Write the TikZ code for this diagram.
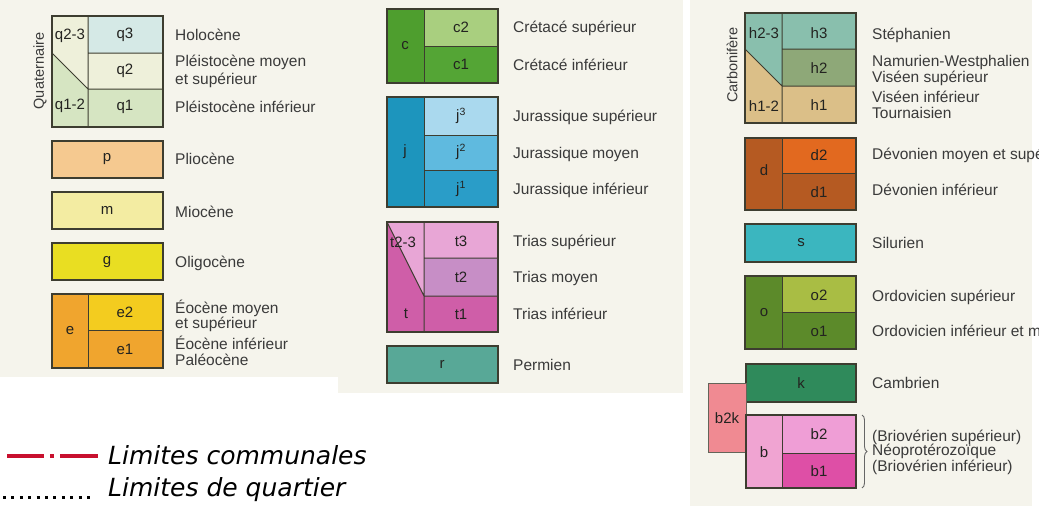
\documentclass[tikz,border=0pt]{standalone}
\usepackage{fontspec}
\setmainfont{Liberation Sans}
\newfontfamily\legendfont{DejaVu Sans}
\usetikzlibrary{decorations.pathreplacing}

\definecolor{panel}{HTML}{F5F4EC}
\definecolor{edge}{HTML}{3D3D30}
\definecolor{ink}{HTML}{232320}
\definecolor{label}{HTML}{3A3A3A}
\definecolor{limred}{HTML}{C8102E}
% stratigraphic colours
\definecolor{stq3}{HTML}{D5E9E6}
\definecolor{stq2}{HTML}{EEF0DA}
\definecolor{stq1}{HTML}{D6E5C2}
\definecolor{stp}{HTML}{F5C990}
\definecolor{stm}{HTML}{F3ECA2}
\definecolor{stg}{HTML}{E9DE22}
\definecolor{ste}{HTML}{F0A52E}
\definecolor{ste2}{HTML}{F3CC1F}
\definecolor{stc}{HTML}{4E9E2E}
\definecolor{stc2}{HTML}{A9CF7F}
\definecolor{stc1}{HTML}{54A535}
\definecolor{stj}{HTML}{1D95BD}
\definecolor{stj3}{HTML}{AAD9EE}
\definecolor{stj2}{HTML}{5FBADF}
\definecolor{stj1}{HTML}{2A9DC8}
\definecolor{stt}{HTML}{CF5EA8}
\definecolor{stt3}{HTML}{E8A6D6}
\definecolor{stt2}{HTML}{C78EC6}
\definecolor{str}{HTML}{58A897}
\definecolor{sth3}{HTML}{89BFAD}
\definecolor{sth2}{HTML}{8EA878}
\definecolor{sth1}{HTML}{DBBF88}
\definecolor{std}{HTML}{B55A22}
\definecolor{std2}{HTML}{E2691F}
\definecolor{sts}{HTML}{3BB6BF}
\definecolor{sto}{HTML}{5C8A2A}
\definecolor{sto2}{HTML}{A9BD44}
\definecolor{stk}{HTML}{2F8A5B}
\definecolor{stbk}{HTML}{F08A92}
\definecolor{stb}{HTML}{F0A4D2}
\definecolor{stb2}{HTML}{EF9ED6}
\definecolor{stb1}{HTML}{DE4FA6}

\begin{document}
\begin{tikzpicture}[x=1pt,y=-1pt,
  frame/.style={draw=edge, line width=1.3pt},
  sep/.style={draw=edge, line width=1pt},
  code/.style={font=\fontsize{15}{17}\selectfont, text=ink, inner sep=0},
  era/.style={font=\fontsize{15.5}{17}\selectfont, text=label, anchor=west, inner sep=0},
  period/.style={font=\fontsize{14.5}{16}\selectfont, text=label, rotate=90, inner sep=0},
  legtxt/.style={font=\legendfont\itshape\fontsize{25}{28}\selectfont, text=black, anchor=west, inner sep=0}]

\useasboundingbox (0,0) rectangle (1039,506);
\clip (0,0) rectangle (1039,506);
\fill[white] (0,0) rectangle (1039,506);

% background panels
\fill[fill=panel] (0,0) rectangle (338,377);
\fill[fill=panel] (338,0) rectangle (683,393);
\fill[fill=panel] (690,0) rectangle (1032,506);

% ---------- Quaternaire ----------
\fill[fill=stq3] (88,16) rectangle (163,53);
\fill[fill=stq2] (88,53) rectangle (163,89);
\fill[fill=stq1] (88,89) rectangle (163,127);
\fill[fill=stq2] (52,16) -- (88,16) -- (88,89) -- (52,53) -- cycle;
\fill[fill=stq1] (52,53) -- (88,89) -- (88,127) -- (52,127) -- cycle;
\draw[sep] (88,16) -- (88,127) (88,53) -- (163,53) (88,89) -- (163,89) (52,53) -- (88,89);
\draw[frame] (52,16) rectangle (163,127);
\node[period] (quat) at (40,71) {Quaternaire};
\node[code] (q23) at (70,36) {q2-3};
\node[code] (q12) at (70,106) {q1-2};
\node[code] (q3) at (125,35) {q3};
\node[code] (q2) at (125,71) {q2};
\node[code] (q1) at (125,107) {q1};
\node[era] (tq3) at (175,35) {Holocène};
\node[era] (tq2a) at (175,62) {Pléistocène moyen};
\node[era] (tq2b) at (175,80) {et supérieur};
\node[era] (tq1) at (175,107) {Pléistocène inférieur};

% ---------- Tertiaire ----------
\fill[fill=stp] (52,141) rectangle (163,178);
\draw[frame] (52,141) rectangle (163,178);
\node[code] (p) at (107,159) {p};
\node[era] (tp) at (175,159) {Pliocène};

\fill[fill=stm] (52,192) rectangle (163,229);
\draw[frame] (52,192) rectangle (163,229);
\node[code] (m) at (107,210) {m};
\node[era] (tm) at (175,212) {Miocène};

\fill[fill=stg] (52,243) rectangle (163,280);
\draw[frame] (52,243) rectangle (163,280);
\node[code] (g) at (107,262) {g};
\node[era] (tg) at (175,263) {Oligocène};

\fill[fill=ste] (52,294) rectangle (88,368);
\fill[fill=ste2] (88,294) rectangle (163,330);
\fill[fill=ste] (88,330) rectangle (163,368);
\draw[sep] (88,294) -- (88,368) (88,330) -- (163,330);
\draw[frame] (52,294) rectangle (163,368);
\node[code] (e) at (70,331) {e};
\node[code] (e2) at (125,312) {e2};
\node[code] (e1) at (125,349) {e1};
\node[era] (te2a) at (175,308) {Éocène moyen};
\node[era] (te2b) at (175,324) {et supérieur};
\node[era] (te1a) at (175,343) {Éocène inférieur};
\node[era] (te1b) at (175,360) {Paléocène};

% ---------- Secondaire ----------
\fill[fill=stc] (387,9) rectangle (424,83);
\fill[fill=stc2] (424,9) rectangle (498,46);
\fill[fill=stc1] (424,46) rectangle (498,83);
\draw[sep] (424,9) -- (424,83) (424,46) -- (498,46);
\draw[frame] (387,9) rectangle (498,83);
\node[code] (c) at (405,46) {c};
\node[code] (c2) at (461,27) {c2};
\node[code] (c1) at (461,64) {c1};
\node[era] (tc2) at (513,28) {Crétacé supérieur};
\node[era] (tc1) at (513,65) {Crétacé inférieur};

\fill[fill=stj] (387,97) rectangle (424,207);
\fill[fill=stj3] (424,97) rectangle (498,135);
\fill[fill=stj2] (424,135) rectangle (498,170);
\fill[fill=stj1] (424,170) rectangle (498,207);
\draw[sep] (424,97) -- (424,207) (424,135) -- (498,135) (424,170) -- (498,170);
\draw[frame] (387,97) rectangle (498,207);
\node[code] (j) at (405,152) {j};
\node[code] (j3) at (461,116) {j\textsuperscript{3}};
\node[code] (j2) at (461,152) {j\textsuperscript{2}};
\node[code] (j1) at (461,189) {j\textsuperscript{1}};
\node[era] (tj3) at (513,117) {Jurassique supérieur};
\node[era] (tj2) at (513,154) {Jurassique moyen};
\node[era] (tj1) at (513,190) {Jurassique inférieur};

\fill[fill=stt] (387,222) rectangle (424,332);
\fill[fill=stt3] (387,222) -- (424,222) -- (424,296) -- cycle;
\fill[fill=stt3] (424,222) rectangle (498,258);
\fill[fill=stt2] (424,258) rectangle (498,296);
\fill[fill=stt] (424,296) rectangle (498,332);
\draw[sep] (424,222) -- (424,332) (424,258) -- (498,258) (424,296) -- (498,296) (387,222) -- (424,296);
\draw[frame] (387,222) rectangle (498,332);
\node[code] (t23) at (403,242) {t2-3};
\node[code] (t) at (406,314) {t};
\node[code] (t3) at (461,241) {t3};
\node[code] (t2) at (461,277) {t2};
\node[code] (t1) at (461,314) {t1};
\node[era] (tt3) at (513,242) {Trias supérieur};
\node[era] (tt2) at (513,278) {Trias moyen};
\node[era] (tt1) at (513,314) {Trias inférieur};

\fill[fill=str] (387,346) rectangle (498,383);
\draw[frame] (387,346) rectangle (498,383);
\node[code] (r) at (442,364) {r};
\node[era] (tr) at (513,365) {Permien};

% ---------- Primaire ----------
\fill[fill=sth3] (782,13) rectangle (856,49);
\fill[fill=sth2] (782,49) rectangle (856,86);
\fill[fill=sth1] (782,86) rectangle (856,123);
\fill[fill=sth3] (745,13) -- (782,13) -- (782,86) -- (745,49) -- cycle;
\fill[fill=sth1] (745,49) -- (782,86) -- (782,123) -- (745,123) -- cycle;
\draw[sep] (782,13) -- (782,123) (782,49) -- (856,49) (782,86) -- (856,86) (745,49) -- (782,86);
\draw[frame] (745,13) rectangle (856,123);
\node[period] (carb) at (732,65) {Carbonifère};
\node[code] (h23) at (764,33) {h2-3};
\node[code] (h12) at (764,106) {h1-2};
\node[code] (h3) at (819,33) {h3};
\node[code] (h2) at (819,68) {h2};
\node[code] (h1) at (819,105) {h1};
\node[era] (th3) at (872,35) {Stéphanien};
\node[era] (th2a) at (872,62) {Namurien-Westphalien};
\node[era] (th2b) at (872,78) {Viséen supérieur};
\node[era] (th1a) at (872,97) {Viséen inférieur};
\node[era] (th1b) at (872,113) {Tournaisien};

\fill[fill=std] (745,138) rectangle (782,210);
\fill[fill=std2] (782,138) rectangle (856,173);
\fill[fill=std] (782,173) rectangle (856,210);
\draw[sep] (782,138) -- (782,210) (782,173) -- (856,173);
\draw[frame] (745,138) rectangle (856,210);
\node[code] (d) at (764,170) {d};
\node[code] (d2) at (819,155) {d2};
\node[code] (d1) at (819,192) {d1};
\node[era] (td2) at (872,155) {Dévonien moyen et supérieur};
\node[era] (td1) at (872,190) {Dévonien inférieur};

\fill[fill=sts] (745,224) rectangle (856,262);
\draw[frame] (745,224) rectangle (856,262);
\node[code] (s) at (801,243) {s};
\node[era] (ts) at (872,243) {Silurien};

\fill[fill=sto] (745,276) rectangle (782,349);
\fill[fill=sto2] (782,276) rectangle (856,312);
\fill[fill=sto] (782,312) rectangle (856,349);
\draw[sep] (782,276) -- (782,349) (782,312) -- (856,312);
\draw[frame] (745,276) rectangle (856,349);
\node[code] (o) at (764,313) {o};
\node[code] (o2) at (819,295) {o2};
\node[code] (o1) at (819,331) {o1};
\node[era] (to2) at (872,297) {Ordovicien supérieur};
\node[era] (to1) at (872,332) {Ordovicien inférieur et moyen};

\fill[fill=stk] (746,364) rectangle (856,402);
\draw[frame] (746,364) rectangle (856,402);
\node[code] (k) at (801,383) {k};
\node[era] (tk) at (872,383) {Cambrien};

\fill[fill=stbk] (708,383) rectangle (746,452);
\draw[draw=edge!80, line width=1pt] (708,383) rectangle (746,452);
\node[code] (b2k) at (727,418) {b2k};

\fill[fill=stb] (746,415) rectangle (782,488);
\fill[fill=stb2] (782,415) rectangle (856,453);
\fill[fill=stb1] (782,453) rectangle (856,488);
\draw[sep] (782,415) -- (782,488) (782,453) -- (856,453);
\draw[frame] (746,415) rectangle (856,488);
\node[code] (b) at (764,452) {b};
\node[code] (b2) at (819,434) {b2};
\node[code] (b1) at (819,471) {b1};
\coordinate (brtop) at (862,415);
\coordinate (brbot) at (862,488);
\draw[decorate, decoration={brace, amplitude=5pt}, draw=gray!80!black, line width=0.9pt] (brtop) -- (brbot);
\node[era] (tb2) at (872,437) {(Briovérien supérieur)};
\node[era] (tbn) at (872,451) {Néoprotérozoïque};
\node[era] (tb1) at (872,467) {(Briovérien inférieur)};

% ---------- boundaries ----------
\coordinate (ca) at (7,456);
\coordinate (cb) at (98,456);
\draw[draw=limred, line width=4pt, dash pattern=on 37pt off 6pt on 4pt off 6pt on 38pt] (ca) -- (cb);
\node[legtxt] (lcom) at (108,455) {Limites communales};
\coordinate (qa) at (3,497);
\coordinate (qb) at (92,497);
\draw[draw=black, line width=3pt, dash pattern=on 3pt off 5.4pt] (qa) -- (qb);
\node[legtxt] (lqua) at (108,490) {Limites de quartier};
\end{tikzpicture}
\end{document}
